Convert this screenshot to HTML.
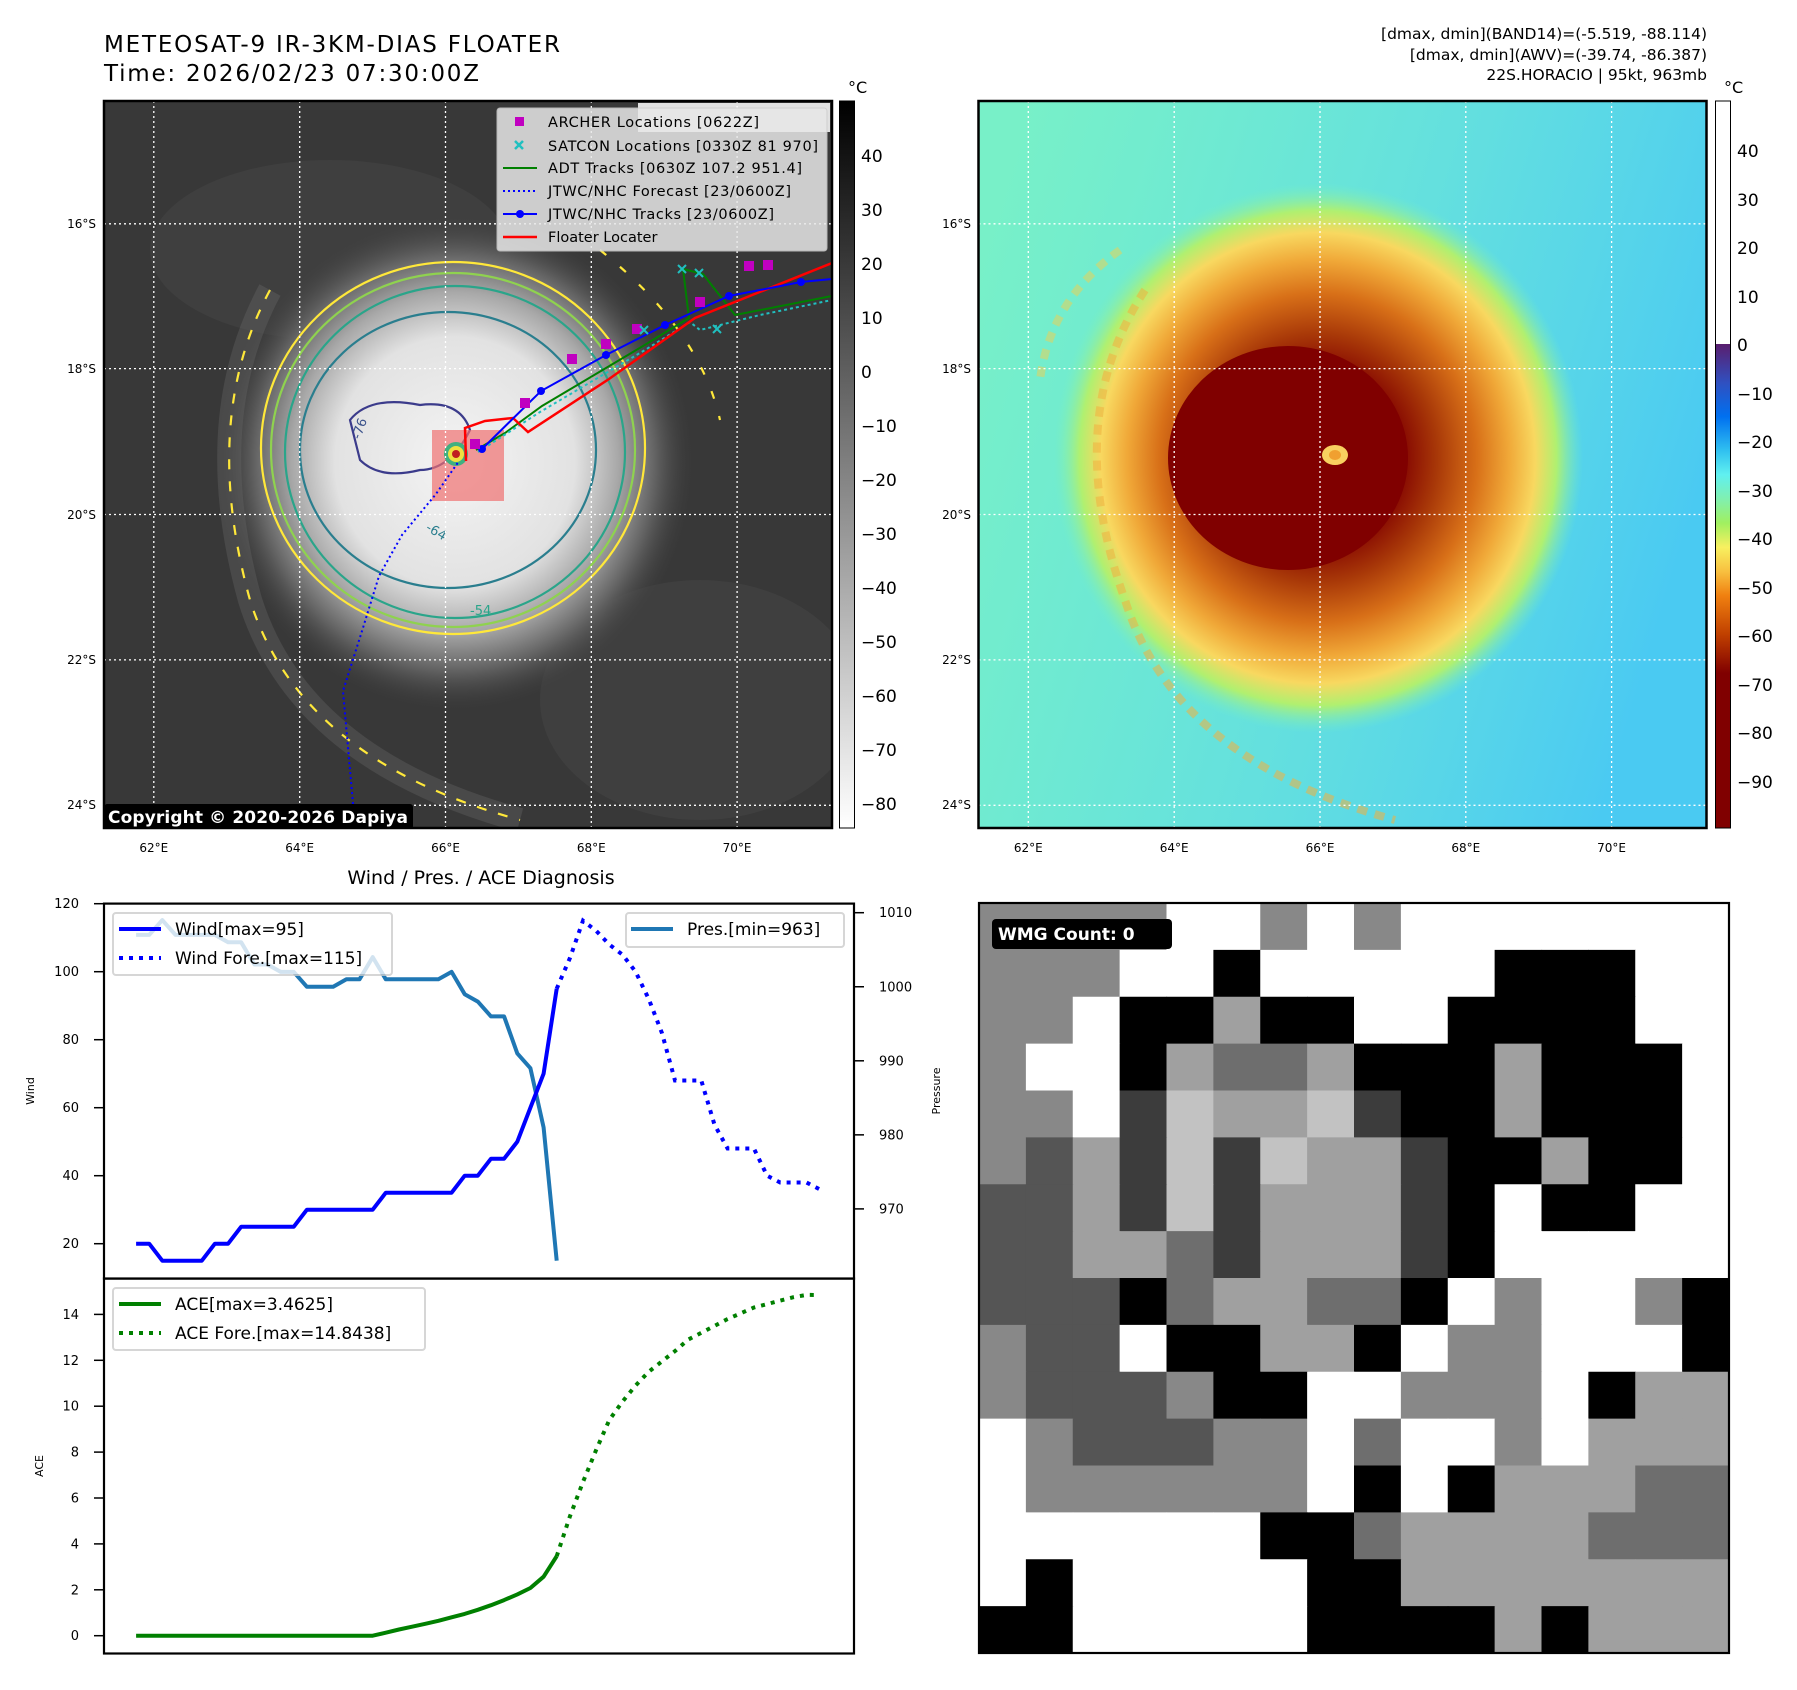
<!DOCTYPE html>
<html><head><meta charset="utf-8"><style>
html,body{margin:0;padding:0;background:#fff;}
svg{display:block;font-family:"DejaVu Sans","Liberation Sans",sans-serif;}
</style></head><body>
<svg id="fig" xmlns="http://www.w3.org/2000/svg" width="1797" height="1690" viewBox="0 0 1797 1690">
<defs>
 <clipPath id="c1"><rect x="104" y="101" width="728" height="727"/></clipPath>
 <clipPath id="c2"><rect x="978.5" y="101" width="728" height="727"/></clipPath>
 <radialGradient id="cloud1" cx="0.5" cy="0.5" r="0.5">
  <stop offset="0" stop-color="#f4f4f4"/><stop offset="0.5" stop-color="#e2e2e2"/><stop offset="0.68" stop-color="#a8a8a8"/><stop offset="0.84" stop-color="#606060"/><stop offset="1" stop-color="#3a3a3a" stop-opacity="0"/>
 </radialGradient>
 <radialGradient id="cloud2" cx="0.5" cy="0.5" r="0.5">
  <stop offset="0" stop-color="#800000"/><stop offset="0.3" stop-color="#800000"/><stop offset="0.45" stop-color="#a83808"/><stop offset="0.6" stop-color="#d87018"/><stop offset="0.72" stop-color="#f0a838"/><stop offset="0.82" stop-color="#f8d860"/><stop offset="0.9" stop-color="#b0f070"/><stop offset="1" stop-color="#78f0c0" stop-opacity="0"/>
 </radialGradient>
 <linearGradient id="sky2" x1="0" y1="0.2" x2="1" y2="0.5">
  <stop offset="0" stop-color="#50d8f0" stop-opacity="0"/><stop offset="0.55" stop-color="#50d0f4" stop-opacity="0.5"/><stop offset="1" stop-color="#48c8f4" stop-opacity="0.95"/>
 </linearGradient>
 <linearGradient id="cb1" x1="0" y1="0" x2="0" y2="1"><stop offset="0" stop-color="#000"/><stop offset="1" stop-color="#fff"/></linearGradient>
 <linearGradient id="cb2" x1="0" y1="0" x2="0" y2="1">
  <stop offset="0" stop-color="#5a1e6e"/><stop offset="0.08" stop-color="#3050c0"/><stop offset="0.15" stop-color="#0070f0"/><stop offset="0.22" stop-color="#30c0f0"/><stop offset="0.27" stop-color="#60f0f0"/><stop offset="0.32" stop-color="#80f0b0"/><stop offset="0.37" stop-color="#a0f060"/><stop offset="0.42" stop-color="#f8f060"/><stop offset="0.47" stop-color="#f8c040"/><stop offset="0.52" stop-color="#f08010"/><stop offset="0.6" stop-color="#c04000"/><stop offset="0.68" stop-color="#800000"/><stop offset="1" stop-color="#800000"/>
 </linearGradient>
</defs>

<text x="104" y="52" font-size="23" textLength="456">METEOSAT-9 IR-3KM-DIAS FLOATER</text>
<text x="104" y="81" font-size="23" textLength="375">Time: 2026/02/23 07:30:00Z</text>
<g font-size="15.5" text-anchor="end">
 <text x="1707" y="39">[dmax, dmin](BAND14)=(-5.519, -88.114)</text>
 <text x="1707" y="60">[dmax, dmin](AWV)=(-39.74, -86.387)</text>
 <text x="1707" y="80">22S.HORACIO | 95kt, 963mb</text>
</g>

<!-- Map 1 -->
<g clip-path="url(#c1)">
 <rect x="104" y="101" width="728" height="727" fill="#383838"/>
 <ellipse cx="330" cy="250" rx="180" ry="90" fill="#454545" opacity="0.6"/>
 <ellipse cx="700" cy="700" rx="160" ry="120" fill="#444" opacity="0.6"/>
 <ellipse cx="455" cy="462" rx="240" ry="250" fill="url(#cloud1)"/>
 <path d="M270,290 Q200,420 250,600 Q300,760 520,820" fill="none" stroke="#6a6a6a" stroke-width="24" opacity="0.35"/>
 <g fill="none" stroke-width="2.2">
  <ellipse cx="453" cy="448" rx="192" ry="186" stroke="#ffe83a"/>
  <ellipse cx="453" cy="450" rx="182" ry="177" stroke="#8fd24f"/>
  <ellipse cx="455" cy="452" rx="170" ry="166" stroke="#2aa58a"/>
  <ellipse cx="448" cy="450" rx="148" ry="138" stroke="#2a7e8e"/>
  <path d="M350,420 Q370,395 420,405 Q460,400 470,430 Q450,470 420,470 Q380,480 360,460 Z" stroke="#3b3b8b"/>
  <path d="M270,290 Q200,420 250,600 Q300,760 520,820" stroke="#ffe83a" stroke-dasharray="10 12"/>
  <path d="M600,250 Q700,330 720,420" stroke="#ffe83a" stroke-dasharray="8 18"/>
 </g>
 <rect x="432" y="430" width="72" height="71" fill="#f07070" opacity="0.7"/>
 <circle cx="456" cy="454" r="12" fill="#40b080"/><circle cx="456" cy="454" r="8" fill="#f0e040"/><circle cx="456" cy="454" r="4" fill="#c02020"/>
 <g font-size="13" fill="#3b528b">
  <text x="360" y="440" transform="rotate(-70 360 440)">-76</text><text x="425" y="530" transform="rotate(30 425 530)" fill="#2a7e8e">-64</text><text x="470" y="615" fill="#2aa58a">-54</text>
 </g>
 <g stroke="#fff" stroke-width="1.3" stroke-dasharray="2 3">
  <line x1="153.8" y1="101" x2="153.8" y2="828"/><line x1="299.7" y1="101" x2="299.7" y2="828"/><line x1="445.5" y1="101" x2="445.5" y2="828"/><line x1="591.3" y1="101" x2="591.3" y2="828"/><line x1="737.1" y1="101" x2="737.1" y2="828"/>
  <line x1="104" y1="223.8" x2="832" y2="223.8"/><line x1="104" y1="368.6" x2="832" y2="368.6"/><line x1="104" y1="514.5" x2="832" y2="514.5"/><line x1="104" y1="659.9" x2="832" y2="659.9"/><line x1="104" y1="805.3" x2="832" y2="805.3"/>
 </g>
 <g fill="none">
  <polyline points="353,804 343,691 362,631 379,576 402,535 436,494 459,461" stroke="#0000ff" stroke-width="2" stroke-dasharray="2 3"/>
  <polyline points="476,450 505,433 542,406 643,346 689,318 683,269 703,274 735,315 832,296" stroke="#008000" stroke-width="2"/>
  <polyline points="478,452 540,412 645,350 690,322 700,330 760,315 832,300" stroke="#20c0c0" stroke-width="2" stroke-dasharray="3 3"/>
  <polyline points="466,461 465,428 485,421 513,418 528,432 609,379 695,318 832,263" stroke="#ff0000" stroke-width="2.5"/>
  <polyline points="482,449 541,391 606,355 665,325 729,296 801,282 832,279" stroke="#0000ff" stroke-width="2"/>
  <g fill="#0000ff"><circle cx="482" cy="449" r="4"/><circle cx="541" cy="391" r="4"/><circle cx="606" cy="355" r="4"/><circle cx="665" cy="325" r="4"/><circle cx="729" cy="296" r="4"/><circle cx="801" cy="282" r="4"/></g>
  <g fill="#c000c0"><rect x="470" y="439" width="10" height="10"/><rect x="520" y="398" width="10" height="10"/><rect x="567" y="354" width="10" height="10"/><rect x="601" y="339" width="10" height="10"/><rect x="632" y="324" width="10" height="10"/><rect x="695" y="297" width="10" height="10"/><rect x="744" y="261" width="10" height="10"/><rect x="763" y="260" width="10" height="10"/></g>
  <g stroke="#20c0c0" stroke-width="2"><path d="M678,265l8,8M686,265l-8,8M695,269l8,8M703,269l-8,8M713,325l8,8M721,325l-8,8M640,326l8,8M648,326l-8,8"/></g>
 </g>
 <rect x="638" y="103" width="192" height="29" fill="#fff" opacity="0.85"/>
 <text x="650" y="124" font-size="16" fill="#ddd" font-weight="bold">© EUMETSAT 2026</text>
</g>
<rect x="104" y="101" width="728" height="727" fill="none" stroke="#000" stroke-width="2.5"/>
<g>
 <rect x="497" y="108" width="330" height="143" rx="3" fill="#e8e8e8" opacity="0.85" stroke="#ccc"/>
 <rect x="515" y="117" width="9" height="9" fill="#c000c0"/>
 <path d="M515,141l8,8M523,141l-8,8" stroke="#20c0c0" stroke-width="2.5"/>
 <line x1="503" y1="168" x2="537" y2="168" stroke="#008000" stroke-width="2"/>
 <line x1="503" y1="191" x2="537" y2="191" stroke="#0000ff" stroke-width="2" stroke-dasharray="2 3"/>
 <line x1="503" y1="214" x2="537" y2="214" stroke="#0000ff" stroke-width="2"/><circle cx="520" cy="214" r="4" fill="#0000ff"/>
 <line x1="503" y1="237" x2="537" y2="237" stroke="#ff0000" stroke-width="2.5"/>
 <g font-size="14.5">
  <text x="548" y="127" textLength="211">ARCHER Locations [0622Z]</text>
  <text x="548" y="151" textLength="270">SATCON Locations [0330Z 81 970]</text>
  <text x="548" y="173" textLength="254">ADT Tracks [0630Z 107.2 951.4]</text>
  <text x="548" y="196" textLength="243">JTWC/NHC Forecast [23/0600Z]</text>
  <text x="548" y="219" textLength="226">JTWC/NHC Tracks [23/0600Z]</text>
  <text x="548" y="242">Floater Locater</text>
 </g>
</g>
<g>
 <rect x="104" y="804" width="309" height="25" rx="3" fill="#000"/>
 <text x="108" y="823" font-size="17" font-weight="bold" fill="#fff" textLength="300">Copyright © 2020-2026 Dapiya</text>
</g>
<g font-size="12">
 <g text-anchor="end"><text x="96" y="228">16°S</text><text x="96" y="373">18°S</text><text x="96" y="519">20°S</text><text x="96" y="664">22°S</text><text x="96" y="809">24°S</text></g>
 <g text-anchor="middle"><text x="153.8" y="852">62°E</text><text x="299.7" y="852">64°E</text><text x="445.5" y="852">66°E</text><text x="591.3" y="852">68°E</text><text x="737.1" y="852">70°E</text></g>
</g>
<g>
 <rect x="839.5" y="101" width="15" height="727" fill="url(#cb1)" stroke="#000" stroke-width="1"/>
 <text x="848" y="93" font-size="16">°C</text>
 <g font-size="17"><text x="861" y="162">40</text><text x="861" y="216">30</text><text x="861" y="270">20</text><text x="861" y="324">10</text><text x="861" y="378">0</text><text x="861" y="432">−10</text><text x="861" y="486">−20</text><text x="861" y="540">−30</text><text x="861" y="594">−40</text><text x="861" y="648">−50</text><text x="861" y="702">−60</text><text x="861" y="756">−70</text><text x="861" y="810">−80</text></g>
</g>

<!-- Map 2 -->
<g clip-path="url(#c2)">
 <rect x="978.5" y="101" width="728" height="727" fill="#78f0c8"/>
 <rect x="978.5" y="101" width="728" height="727" fill="url(#sky2)"/>
 <ellipse cx="1318" cy="458" rx="265" ry="275" fill="url(#cloud2)"/>
 <ellipse cx="1288" cy="458" rx="120" ry="112" fill="#800000"/>
 <path d="M1145,290 Q1060,420 1125,600 Q1175,760 1395,820" fill="none" stroke="#f0b040" stroke-width="8" opacity="0.55" stroke-dasharray="10 8"/>
 <path d="M1120,250 Q1050,300 1040,380" fill="none" stroke="#f0d050" stroke-width="8" opacity="0.5" stroke-dasharray="10 8"/>
 <ellipse cx="1335" cy="455" rx="13" ry="10" fill="#f8d060"/><ellipse cx="1335" cy="455" rx="6" ry="5" fill="#f0a030"/>
 <g stroke="#fff" stroke-width="1.3" stroke-dasharray="2 3">
  <line x1="1028.3" y1="101" x2="1028.3" y2="828"/><line x1="1174.2" y1="101" x2="1174.2" y2="828"/><line x1="1320" y1="101" x2="1320" y2="828"/><line x1="1465.8" y1="101" x2="1465.8" y2="828"/><line x1="1611.6" y1="101" x2="1611.6" y2="828"/>
  <line x1="978.5" y1="223.8" x2="1706.5" y2="223.8"/><line x1="978.5" y1="368.6" x2="1706.5" y2="368.6"/><line x1="978.5" y1="514.5" x2="1706.5" y2="514.5"/><line x1="978.5" y1="659.9" x2="1706.5" y2="659.9"/><line x1="978.5" y1="805.3" x2="1706.5" y2="805.3"/>
 </g>
</g>
<rect x="978.5" y="101" width="728" height="727" fill="none" stroke="#000" stroke-width="2.5"/>
<g font-size="12">
 <g text-anchor="end"><text x="971" y="228">16°S</text><text x="971" y="373">18°S</text><text x="971" y="519">20°S</text><text x="971" y="664">22°S</text><text x="971" y="809">24°S</text></g>
 <g text-anchor="middle"><text x="1028.3" y="852">62°E</text><text x="1174.2" y="852">64°E</text><text x="1320" y="852">66°E</text><text x="1465.8" y="852">68°E</text><text x="1611.6" y="852">70°E</text></g>
</g>
<g>
 <rect x="1715.5" y="101" width="15" height="243" fill="#fff"/>
 <rect x="1715.5" y="344" width="15" height="484" fill="url(#cb2)"/>
 <rect x="1715.5" y="101" width="15" height="727" fill="none" stroke="#000" stroke-width="1"/>
 <text x="1724" y="93" font-size="16">°C</text>
 <g font-size="17"><text x="1737" y="157">40</text><text x="1737" y="206">30</text><text x="1737" y="254">20</text><text x="1737" y="303">10</text><text x="1737" y="351">0</text><text x="1737" y="400">−10</text><text x="1737" y="448">−20</text><text x="1737" y="497">−30</text><text x="1737" y="545">−40</text><text x="1737" y="594">−50</text><text x="1737" y="642">−60</text><text x="1737" y="691">−70</text><text x="1737" y="739">−80</text><text x="1737" y="788">−90</text></g>
</g>

<text x="481" y="884" font-size="19" text-anchor="middle">Wind / Pres. / ACE Diagnosis</text>
<g id="charts"></g>
<rect x="104" y="903.6" width="750" height="375" fill="none" stroke="#000" stroke-width="2.2"/>
<rect x="104" y="1278.5" width="750" height="375" fill="none" stroke="#000" stroke-width="2.2"/>
<text font-size="11" transform="translate(34 1091) rotate(-90)" text-anchor="middle">Wind</text>
<text font-size="11" transform="translate(940 1091) rotate(-90)" text-anchor="middle">Pressure</text>
<text font-size="11" transform="translate(43 1466) rotate(-90)" text-anchor="middle">ACE</text>
<g>
 <rect x="113" y="913" width="279" height="62" rx="3" fill="#fff" opacity="0.8" stroke="#ccc" stroke-width="2"/>
 <line x1="119" y1="929" x2="161" y2="929" stroke="#0000ff" stroke-width="4"/>
 <line x1="119" y1="958" x2="161" y2="958" stroke="#0000ff" stroke-width="4" stroke-dasharray="4 6"/>
 <text x="175" y="935" font-size="17">Wind[max=95]</text>
 <text x="175" y="964" font-size="17">Wind Fore.[max=115]</text>
</g>
<g>
 <rect x="626" y="913" width="218" height="34" rx="3" fill="#fff" opacity="0.8" stroke="#ccc" stroke-width="2"/>
 <line x1="631" y1="929" x2="673" y2="929" stroke="#1f77b4" stroke-width="4"/>
 <text x="687" y="935" font-size="17">Pres.[min=963]</text>
</g>
<g>
 <rect x="113" y="1288" width="312" height="62" rx="3" fill="#fff" opacity="0.8" stroke="#ccc" stroke-width="2"/>
 <line x1="119" y1="1304" x2="161" y2="1304" stroke="#008000" stroke-width="4"/>
 <line x1="119" y1="1333" x2="161" y2="1333" stroke="#008000" stroke-width="4" stroke-dasharray="4 6"/>
 <text x="175" y="1310" font-size="17">ACE[max=3.4625]</text>
 <text x="175" y="1339" font-size="17">ACE Fore.[max=14.8438]</text>
</g>

<g id="wmg"></g>
<rect x="979" y="903" width="750" height="750" fill="none" stroke="#000" stroke-width="2.2"/>
<g>
 <rect x="992" y="919" width="180" height="30" rx="4" fill="#000"/>
 <text x="998" y="940" font-size="17" font-weight="bold" fill="#fff">WMG Count: 0</text>
</g>
</svg>
<script>
const windIdx = [0,1,2,3,4,5,6,7,8,9,10,11,12,13,14,15,16,17,18,19,20,21,22,23,24,25,26,27,28,29,30,31,32];
const windObs = [20,20,15,15,15,15,20,20,25,25,25,25,25,30,30,30,30,30,30,35,35,35,35,35,35,40,40,45,45,50,60,70,95];
const windFore = [95,104,115,112,108,105,100,92,82,68,68,68,55,48,48,48,40,38,38,38,36];
const presObs = [1007,1007,1009,1007,1007,1007,1007,1006,1006,1003,1003,1002,1002,1000,1000,1000,1001,1001,1004,1001,1001,1001,1001,1001,1002,999,998,996,996,991,989,981,963];
const aceObs = [0,0,0,0,0,0,0,0,0,0,0,0,0,0,0,0,0,0,0,0.13,0.27,0.39,0.52,0.65,0.8,0.95,1.13,1.33,1.55,1.8,2.08,2.57,3.4625];
const aceFore = [3.4625,5.2,6.7,8.1,9.4,10.2,10.9,11.5,11.95,12.4,12.9,13.2,13.5,13.8,14.05,14.3,14.45,14.6,14.75,14.85,14.8438];
const windTicks = [20,40,60,80,100,120];
const presTicks = [970,980,990,1000,1010];
const aceTicks = [0,2,4,6,8,10,12,14];

const NS='http://www.w3.org/2000/svg';
const X = i => 136.05 + 13.146*i;
const YW = v => 1243.7 - (v-20)*3.4;
const YP = p => 912.7 + (1010-p)*7.405;
const YA = v => 1635.7 - v*22.95;
const g = document.getElementById('charts');
function mk(tag, attrs){const e=document.createElementNS(NS,tag);for(const k in attrs)e.setAttribute(k,attrs[k]);g.appendChild(e);return e;}
function pts(arr, off, fy){return arr.map((v,i)=>X(i+off).toFixed(1)+','+fy(v).toFixed(1)).join(' ');}

let l;
l = mk('polyline',{points:pts(presObs,0,YP),fill:'none',stroke:'#1f77b4','stroke-width':4,'stroke-linejoin':'round'});


l = mk('polyline',{points:pts(windObs,0,YW),fill:'none',stroke:'#0000ff','stroke-width':4,'stroke-linejoin':'round'});


l = mk('polyline',{points:pts(windFore,32,YW),fill:'none',stroke:'#0000ff','stroke-width':4,'stroke-dasharray':'4 6'});


l = mk('polyline',{points:pts(aceObs,0,YA),fill:'none',stroke:'#008000','stroke-width':4,'stroke-linejoin':'round'});


l = mk('polyline',{points:pts(aceFore,32,YA),fill:'none',stroke:'#008000','stroke-width':4,'stroke-dasharray':'4 6'});



windTicks.forEach(v=>{
  const t=mk('line',{x1:94,x2:104,y1:YW(v),y2:YW(v),stroke:'#000','stroke-width':1.5});
  
  
  const s=mk('text',{x:79,y:YW(v)+4.5,'font-size':13,'text-anchor':'end'});s.textContent=v;
  
  
});
presTicks.forEach(v=>{
  const t=mk('line',{x1:854,x2:864,y1:YP(v),y2:YP(v),stroke:'#000','stroke-width':1.5});
  
  
  const s=mk('text',{x:879,y:YP(v)+4.5,'font-size':13});s.textContent=v;
  
  
});
aceTicks.forEach(v=>{
  const t=mk('line',{x1:94,x2:104,y1:YA(v),y2:YA(v),stroke:'#000','stroke-width':1.5});
  
  
  const s=mk('text',{x:79,y:YA(v)+4.5,'font-size':13,'text-anchor':'end'});s.textContent=v;
  
  
});

const wmgRows = [
"MMMMWWMWMWWWWWWW","MMMWWKWWWWWKKKWW","MMWKKLKKWWKKKKWW","MWWKLGGLKKKLKKKW",
"MMWEPLLPEKKLKKKW","MDLEPEPLLEKKLKKW","DDLEPELLLEKWKKWW","DDLLGELLLEKWWWWW",
"DDDKGLLGGKWMWWMK","MDDWKKLLKWMMWWWK","MDDDMKKWWMMMWKLL","WMDDDMMWGWWMWLLL",
"WMMMMMMWKWKLLLGG","WWWWWWKKGLLLLGGG","WKWWWWWKKLLLLLLL","KKWWWWWKKKKLKLLL"];
const wmgColors = {W:'#ffffff',K:'#000000',D:'#555555',M:'#888888',L:'#a0a0a0',P:'#c2c2c2',E:'#3c3c3c',G:'#6e6e6e'};
const wg=document.getElementById('wmg');
const cs=750/16;
wmgRows.forEach((row,r)=>{[...row].forEach((ch,c)=>{
  const e=document.createElementNS(NS,'rect');
  e.setAttribute('x',(979+c*cs).toFixed(2));e.setAttribute('y',(903+r*cs).toFixed(2));
  e.setAttribute('width',(cs+0.6).toFixed(2));e.setAttribute('height',(cs+0.6).toFixed(2));
  e.setAttribute('fill',wmgColors[ch]);
  
  
  wg.appendChild(e);
});});
</script>
</body></html>
